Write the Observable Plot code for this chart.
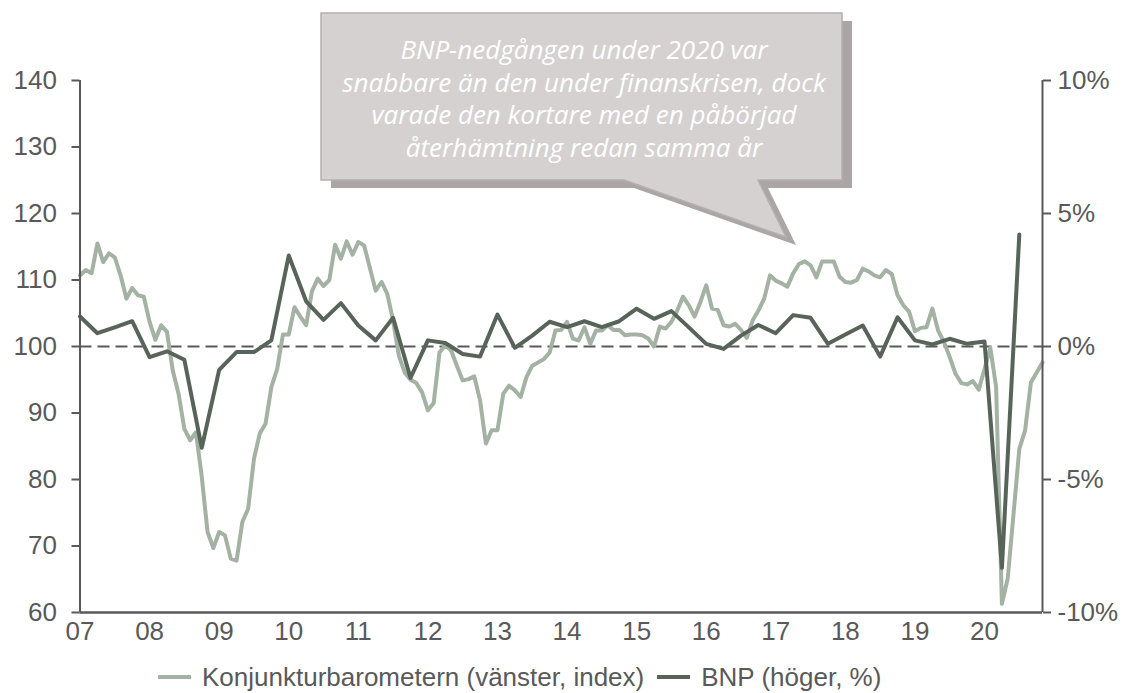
<!DOCTYPE html>
<html><head><meta charset="utf-8">
<script src="https://cdn.jsdelivr.net/npm/d3@7"></script>
<script src="https://cdn.jsdelivr.net/npm/@observablehq/plot@0.6"></script>
<style>
html,body{margin:0;padding:0;background:#fff;}
#wrap{position:relative;width:1130px;height:693px;overflow:hidden;background:#fff;}
#legend{position:absolute;left:158px;top:660px;height:34px;display:flex;align-items:center;font-family:'Liberation Sans',Arial,sans-serif;font-size:26px;color:#595959;white-space:nowrap;}
#legend .sw{display:inline-block;width:33px;height:4px;margin-right:11px;}
#legend .item{display:flex;align-items:center;margin-right:13px;}
</style></head><body><div id="wrap"></div>
<script>
// Konjunkturbarometern, monthly Jan 2007 – Nov 2020 (index, left axis)
const konj = [
110.7,111.5,111.0,115.5,112.7,114.0,113.4,110.7,107.2,108.8,107.7,107.5,
103.7,101.0,103.2,102.2,96.4,92.9,87.6,85.9,87.1,80.4,72.1,69.7,
72.1,71.6,68.1,67.8,73.6,75.6,83.1,86.9,88.4,93.9,96.6,101.8,
101.8,105.9,104.5,103.2,108.3,110.2,109.1,110.0,115.3,113.2,115.8,113.8,
115.7,115.2,111.8,108.4,109.7,107.9,103.9,98.6,96.1,95.0,94.5,93.1,
90.4,91.5,99.1,100.2,99.4,97.1,94.9,95.1,95.5,91.9,85.4,87.4,
87.4,92.9,94.1,93.4,92.4,95.4,97.1,97.6,98.1,99.1,102.4,102.5,
103.7,101.2,100.9,102.9,100.4,102.4,102.4,103.2,102.5,102.5,101.7,101.8,
101.8,101.7,101.2,100.0,103.0,102.7,103.7,105.4,107.5,106.2,104.5,106.7,
109.2,105.7,105.5,103.2,103.0,103.4,102.5,101.3,103.9,105.4,107.2,110.7,
109.9,109.5,109.0,111.0,112.4,112.8,112.2,110.4,112.8,112.8,112.8,110.5,
109.7,109.6,110.0,111.7,111.3,110.7,110.4,111.5,110.9,107.7,106.2,105.2,
102.3,102.8,102.9,105.7,102.4,100.7,98.4,95.9,94.5,94.3,94.8,93.5,
96.6,99.8,93.9,61.3,65.1,74.8,84.6,87.4,94.6,96.1,97.6
];
// BNP, quarterly Q1 2007 – Q3 2020 (%, right axis)
const bnp = [
1.13,0.5,0.72,0.95,-0.4,-0.18,-0.5,-3.81,-0.88,-0.21,-0.21,0.23,
3.42,1.7,1.0,1.63,0.79,0.23,1.08,-1.18,0.23,0.13,-0.28,-0.38,
1.2,-0.05,0.41,0.93,0.73,0.95,0.73,0.95,1.42,1.04,1.33,0.72,
0.1,-0.09,0.41,0.81,0.5,1.18,1.08,0.1,0.45,0.79,-0.38,1.1,
0.23,0.08,0.29,0.1,0.19,-8.32,4.21
];
const yearLabels = ["07","08","09","10","11","12","13","14","15","16","17","18","19","20"];
const leftTicks = [60,70,80,90,100,110,120,130,140];
const rightTicks = [-10,-5,0,5,10];
const seriesNames = ["Konjunkturbarometern (vänster, index)","BNP (höger, %)"];
const seriesColors = ["#a3b2a2","#58645a"];
const calloutLines = ["BNP-nedgången under 2020 var","snabbare än den under finanskrisen, dock","varade den kortare med en påbörjad","återhämtning redan samma år"];

// right axis (%) mapped onto left axis (index): 0% = 100, ±10% = 100 ± 40
const toLeft = p => 100 + 4 * p;

function callout() {
  const g = d3.create("svg:g");
  const box = "M321,13 L842,13 L842,180 L758,180 L786,237 L624,180 L321,180 Z";
  g.append("path").attr("d", box).attr("transform", "translate(10,8)").attr("fill", "#aba5a5");
  g.append("path").attr("d", box).attr("fill", "#d5d1d1").attr("stroke", "#b5afaf").attr("stroke-width", 1.5);
  const t = g.append("text").attr("fill", "#fff").attr("font-family", "'Open Sans',sans-serif")
    .attr("font-style", "italic").attr("font-size", 26).attr("text-anchor", "middle");
  calloutLines.forEach((s, k) => t.append("tspan").attr("x", 584).attr("y", 59 + k * 32.7).text(s));
  return g.node();
}

const ax = {stroke: "#595959", strokeWidth: 2, fontSize: 26, label: null};
const chart = Plot.plot({
  width: 1130, height: 655,
  marginLeft: 79.5, marginRight: 88, marginTop: 80, marginBottom: 43,
  x: {domain: [0, 166], axis: null},
  y: {domain: [60, 140], axis: null},
  style: {fontFamily: "'Liberation Sans',Arial,sans-serif", fontSize: "26px", color: "#595959", background: "#fff", overflow: "visible"},
  marks: [
    Plot.ruleY([100], {stroke: "#595959", strokeWidth: 2.2, strokeDasharray: "12,6"}),
    Plot.lineY(konj, {x: (d, i) => i, y: d => d, stroke: seriesColors[0], strokeWidth: 4, strokeLinejoin: "round"}),
    Plot.lineY(bnp, {x: (d, q) => 3 * q, y: d => toLeft(d), stroke: seriesColors[1], strokeWidth: 4, strokeLinejoin: "round"}),
    Plot.ruleX([0], {stroke: "#595959", strokeWidth: 2}),
    Plot.ruleX([166], {stroke: "#595959", strokeWidth: 2}),
    Plot.ruleY([60], {stroke: "#595959", strokeWidth: 2.5}),
    Plot.axisY(leftTicks, {...ax, anchor: "left", tickSize: 8, tickPadding: 15}),
    Plot.axisY(rightTicks.map(toLeft), {...ax, anchor: "right", tickSize: 8, tickPadding: 7, tickFormat: d => `${(d - 100) / 4}%`}),
    Plot.axisX(yearLabels.map((_, k) => 12 * k), {...ax, anchor: "bottom", tickSize: 0, tickPadding: 9, tickFormat: d => yearLabels[d / 12]}),
    callout
  ]
});
const wrap = document.getElementById("wrap");
wrap.appendChild(chart);
const leg = document.createElement("div");
leg.id = "legend";
seriesNames.forEach((n, k) => {
  const it = document.createElement("span"); it.className = "item";
  const sw = document.createElement("span"); sw.className = "sw"; sw.style.background = seriesColors[k];
  it.appendChild(sw); it.appendChild(document.createTextNode(n));
  leg.appendChild(it);
});
wrap.appendChild(leg);
</script></body></html>
